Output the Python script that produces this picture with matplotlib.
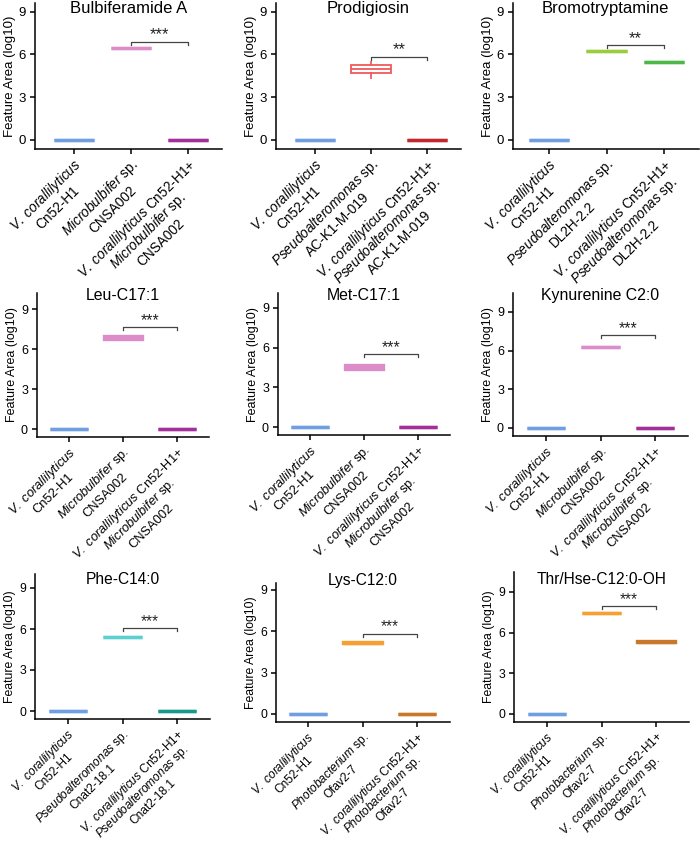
import numpy as np
import matplotlib
matplotlib.use('Agg')
import matplotlib.pyplot as plt
from matplotlib import transforms

plt.rcParams['font.family'] = ['Liberation Sans', 'DejaVu Sans']
plt.rcParams['mathtext.fontset'] = 'custom'
plt.rcParams['mathtext.rm'] = 'Liberation Sans'
plt.rcParams['mathtext.it'] = 'Liberation Sans:italic'
plt.rcParams['mathtext.bf'] = 'Liberation Sans:bold'

# --- data (log10 feature area) ---
compounds = ['Bulbiferamide A', 'Prodigiosin', 'Bromotryptamine',
             'Leu-C17:1', 'Met-C17:1', 'Kynurenine C2:0',
             'Phe-C14:0', 'Lys-C12:0', 'Thr/Hse-C12:0-OH']
partner_genus = ['Microbulbifer', 'Pseudoalteromonas', 'Pseudoalteromonas',
                 'Microbulbifer', 'Microbulbifer', 'Microbulbifer',
                 'Pseudoalteromonas', 'Photobacterium', 'Photobacterium']
partner_strain = ['CNSA002', 'AC-K1-M-019', 'DL2H-2.2',
                  'CNSA002', 'CNSA002', 'CNSA002',
                  'Cnat2-18.1', 'Ofav2-7', 'Ofav2-7']

# V. coralliilyticus alone: always 0
vc_stats = [0, 0, 0, 0, 0]  # whislo, q1, med, q3, whishi

# partner monoculture
mono_lo = [6.43, 4.37, 6.24, 6.76, 4.41, 6.28, 5.42, 5.13, 7.42]
mono_q1 = [6.43, 4.68, 6.24, 6.76, 4.41, 6.28, 5.42, 5.13, 7.42]
mono_med = [6.45, 4.98, 6.24, 6.85, 4.54, 6.30, 5.42, 5.17, 7.43]
mono_q3 = [6.48, 5.26, 6.24, 6.94, 4.67, 6.32, 5.42, 5.21, 7.45]
mono_hi = [6.48, 5.50, 6.24, 6.94, 4.67, 6.32, 5.42, 5.21, 7.45]

# co-culture
co_lo = [0, 0, 5.45, 0, 0, 0, 0, 0, 5.31]
co_q1 = [0, 0, 5.45, 0, 0, 0, 0, 0, 5.31]
co_med = [0, 0, 5.45, 0, 0, 0, 0, 0, 5.33]
co_q3 = [0, 0, 5.45, 0, 0, 0, 0, 0, 5.35]
co_hi = [0, 0, 5.45, 0, 0, 0, 0, 0, 5.35]

stars = ['***', '**', '**', '***', '***', '***', '***', '***', '***']
bracket_y = [6.89, 5.84, 6.66, 7.64, 5.50, 7.18, 6.06, 5.81, 7.94]

vc_color = '#6f9fe0'
mono_colors = ['#dc8cc8', '#f05a5c', '#9acd3c', '#dc8cc8', '#dc8cc8', '#dc8cc8',
               '#5ccfd0', '#f5a030', '#f5a030']
co_colors = ['#a3309a', '#c1272d', '#4cb848', '#a3309a', '#a3309a', '#a3309a',
             '#179a8a', '#c8782a', '#c8782a']

# --- layout in reference pixels: spine x, x of 1st/3rd category, y of 9 and 0 ---
W, H = 700, 841
panel_px = [
    (35, 74, 188, 11.7, 140), (276, 315, 427, 11.7, 140), (513, 549, 664, 11.7, 140),
    (37, 69, 177, 309, 429), (278, 310, 418, 308, 427), (513, 546, 655, 312, 428),
    (35, 68, 177, 588, 711), (276, 308, 417, 590, 714), (514, 547, 656, 592, 714),
]
ytops = [9.6, 9.6, 9.6, 10.2, 10.1, 10.5, 10.0, 9.5, 10.5]
title_y = [9.25, 9.25, 9.25, 10.0, 9.95, 10.3, 9.6, 9.7, 9.9]
fscale = [1.0, 1.0, 1.0, 0.95, 0.95, 0.95, 0.93, 0.93, 0.93]
lscale = [1.0, 1.0, 1.0, 0.95, 0.95, 0.95, 0.87, 0.87, 0.87]
YBOT = -0.6
XTOP = 3.6
ANGLE = 45
TICKLEN = 3.5


def place(spine, x1, x3, y9, y0, ytop):
    ux = (x3 - x1) / 2
    uy = (y0 - y9) / 9
    xlo = 1 - (x1 - spine) / ux
    width = (XTOP - xlo) * ux
    bot = y0 - YBOT * uy
    top = y9 - (ytop - 9) * uy
    return [spine / W, 1 - bot / H, width / W, (bot - top) / H], xlo


def it(s):
    return r'$\mathit{' + s.replace(' ', r'\ ') + '}$'


def rotated_label(ax, xpos, lines, size, renderer):
    """Multi-line 45-degree label, lines centred, block's top-right at the tick."""
    dpi = ax.figure.dpi
    em = size * dpi / 72
    widths = []
    for ln in lines:
        t = ax.text(0, 0, ln, fontsize=size)
        widths.append(t.get_window_extent(renderer).width)
        t.remove()
    wmax = max(widths)
    pitch = 1.24 * em
    a = np.radians(ANGLE)
    drop = (TICKLEN + 2.5) * dpi / 72
    base = ax.get_xaxis_transform()
    for k, ln in enumerate(lines):
        dx = -wmax / 2
        dy = -(k * pitch + 0.55 * em)
        ox = dx * np.cos(a) - dy * np.sin(a)
        oy = dx * np.sin(a) + dy * np.cos(a) - drop
        tr = transforms.offset_copy(base, fig=ax.figure, x=ox, y=oy, units='dots')
        ax.text(xpos, 0, ln, transform=tr, rotation=ANGLE, rotation_mode='anchor',
                ha='center', va='center', fontsize=size, clip_on=False)


vc_lines = [it('V. corallilyticus'), 'Cn52-H1']

fig = plt.figure(figsize=(7, 8.41), dpi=100)
renderer = fig.canvas.get_renderer()

for i in range(9):
    r, xlo = place(*panel_px[i], ytops[i])
    ax = fig.add_axes(r)
    fs = fscale[i]
    mono_lines = [it(partner_genus[i]) + ' sp.', partner_strain[i]]
    co_lines = [it('V. corallilyticus') + ' Cn52-H1+'] + mono_lines

    stats = [
        dict(whislo=vc_stats[0], q1=vc_stats[1], med=vc_stats[2], q3=vc_stats[3], whishi=vc_stats[4]),
        dict(whislo=mono_lo[i], q1=mono_q1[i], med=mono_med[i], q3=mono_q3[i], whishi=mono_hi[i]),
        dict(whislo=co_lo[i], q1=co_q1[i], med=co_med[i], q3=co_q3[i], whishi=co_hi[i]),
    ]
    colors = [vc_color, mono_colors[i], co_colors[i]]
    for pos, st, col in zip([1, 2, 3], stats, colors):
        lw = 1.3 if st['q3'] - st['q1'] > 0.4 else 2.4
        ax.bxp([st], positions=[pos], widths=0.7, patch_artist=True,
               showfliers=False, showcaps=False,
               boxprops=dict(facecolor='white', edgecolor=col, linewidth=lw),
               medianprops=dict(color=col, linewidth=lw),
               whiskerprops=dict(color=col, linewidth=lw))

    # significance bracket between partner and co-culture
    by = bracket_y[i]
    ax.plot([2, 2, 3, 3], [by - 0.2, by, by, by - 0.2], color='#444444', lw=0.9)
    ax.text(2.5, by - 0.05, stars[i], ha='center', va='bottom', fontsize=12 * fs, color='#222222')

    ax.set_xlim(xlo, XTOP)
    ax.set_ylim(YBOT, ytops[i])
    ax.set_yticks([0, 3, 6, 9])
    ax.set_xticks([1, 2, 3])
    ax.tick_params(axis='x', labelbottom=False, length=TICKLEN, width=1.1)
    for pos, lines in zip([1, 2, 3], [vc_lines, mono_lines, co_lines]):
        rotated_label(ax, pos, lines, 9.8 * lscale[i], renderer)
    ax.tick_params(axis='y', labelsize=9.5 * fs, length=TICKLEN, width=1.1, pad=3)
    ax.set_ylabel('Feature Area (log10)', fontsize=9.5 * fs, labelpad=2)
    for s in ['top', 'right']:
        ax.spines[s].set_visible(False)
    for s in ['left', 'bottom']:
        ax.spines[s].set_linewidth(1.1)
    ax.text(0.5, title_y[i], compounds[i], transform=ax.get_yaxis_transform(),
            ha='center', va='center', fontsize=12 * fs)

fig.savefig('out.png', dpi=100)
